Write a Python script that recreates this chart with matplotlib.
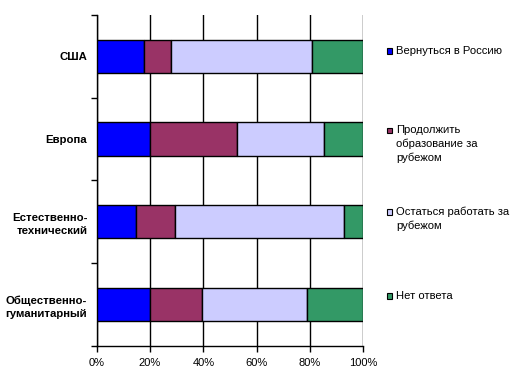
import matplotlib.pyplot as plt
from matplotlib.patches import Rectangle

categories = ["США", "Европа", "Естественно-\nтехнический", "Общественно-\nгуманитарный"]
series_names = ["Вернуться в Россию", "Продолжить\nобразование за\nрубежом",
                "Остаться работать за\nрубежом", "Нет ответа"]
go_home = [17.6, 20.1, 14.9, 19.9]
study_abroad = [10.2, 32.4, 14.5, 19.5]
work_abroad = [52.8, 32.8, 63.4, 39.4]
no_answer = [19.4, 14.7, 7.2, 21.2]
x_ticks = [0, 20, 40, 60, 80, 100]
x_tick_labels = ["0%", "20%", "40%", "60%", "80%", "100%"]

colors = ["#0000FF", "#993366", "#CCCCFF", "#339966"]

plt.rcParams['font.family'] = ['Liberation Sans', 'DejaVu Sans']

W, H = 522, 388
fig = plt.figure(figsize=(W / 100, H / 100), dpi=100)
ax = fig.add_axes([96.7 / W, 1 - 345.7 / H, (363.3 - 96.7) / W, (345.7 - 15) / H])

ypos = list(range(len(categories)))
left = [0] * len(categories)
for vals, c in zip([go_home, study_abroad, work_abroad, no_answer], colors):
    ax.barh(ypos, vals, left=left, height=0.4, color=c, edgecolor="black",
            linewidth=1, zorder=3)
    left = [a + b for a, b in zip(left, vals)]

ax.set_xlim(0, 100)
ax.set_ylim(3.5, -0.5)
ax.set_xticks(x_ticks)
ax.set_xticklabels(x_tick_labels, fontsize=8)
ax.set_yticks(ypos)
ax.set_yticklabels(categories, fontsize=8.2, fontweight="bold", linespacing=1.45)
ax.set_yticks([-0.5, 0.5, 1.5, 2.5, 3.5], minor=True)
ax.tick_params(axis="y", which="major", length=0, pad=6.8)
ax.tick_params(axis="y", which="minor", length=4, width=1)
ax.tick_params(axis="x", length=4, width=1, pad=5)
ax.grid(axis="x", color="black", linewidth=1, zorder=0)
for s in ["top", "right"]:
    ax.spines[s].set_visible(False)
for s in ["left", "bottom"]:
    ax.spines[s].set_linewidth(1)

# legend drawn by hand so the marker sits on the first line
legend_y = [50.7, 130, 211.7, 295.7]
for name, c, y in zip(series_names, colors, legend_y):
    fig.patches.append(Rectangle(((386.5) / W, 1 - (y + 3) / H), 5.5 / W, 5.5 / H,
                                 transform=fig.transFigure, facecolor=c,
                                 edgecolor="black", linewidth=0.8))
    fig.text(396 / W, 1 - (y - 5) / H, name, fontsize=8.1, va="top", ha="left",
             linespacing=1.4)

fig.savefig("out.png", dpi=100)
